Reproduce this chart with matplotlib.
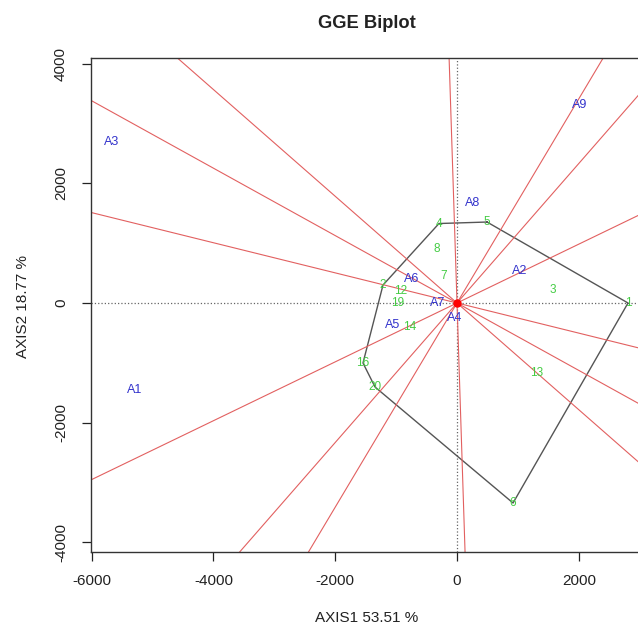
import numpy as np
import matplotlib
matplotlib.use("Agg")
import matplotlib.pyplot as plt

plt.rcParams['font.family'] = ['Liberation Sans', 'DejaVu Sans']

# genotypes (green numbers)
gen_labels = ['1', '3', '13', '6', '20', '16', '14', '19', '2', '12', '7', '8', '4', '5']
gen_x = [2808, 1576, 1314, 920, -1346, -1544, -772, -969, -1215, -920, -213, -328, -296, 493]
gen_y = [0, 218, -1172, -3347, -1406, -1004, -402, 0, 301, 200, 452, 904, 1330, 1355]

# polygon vertices (which-won-where), in drawing order
hull = ['5', '1', '6', '20', '16', '2', '4']

# environments (blue)
env_labels = ['A1', 'A2', 'A3', 'A6', 'A5', 'A4', 'A7', 'A8', 'A9']
env_x = [-5287, 1034, -5665, -740, -1051, -33, -312, 263, 2020]
env_y = [-1456, 536, 2695, 400, -368, -251, 0, 1674, 3314]

x_ticks = [-6000, -4000, -2000, 0, 2000]
y_ticks = [-4000, -2000, 0, 2000, 4000]

fig = plt.figure(figsize=(6.38, 6.28), dpi=100)
W, H = 638, 628
ax = fig.add_axes([91 / W, (H - 552) / H, (643 - 91) / W, (552 - 58) / H])
ax.set_xlim(-6010, 3054)
ax.set_ylim(-4167, 4100)

# dotted axes through origin
ax.axhline(0, color='#666666', linestyle=':', linewidth=0.9, zorder=1)
ax.axvline(0, color='#666666', linestyle=':', linewidth=0.9, zorder=1)

# polygon
pos = {lab: (x, y) for lab, x, y in zip(gen_labels, gen_x, gen_y)}
px = [pos[k][0] for k in hull] + [pos[hull[0]][0]]
py = [pos[k][1] for k in hull] + [pos[hull[0]][1]]
ax.plot(px, py, color='#555555', linewidth=1.0, zorder=2)

# perpendicular lines to each polygon side through the origin
L = 20
for i in range(len(hull)):
    p = np.array(pos[hull[i]], dtype=float)
    q = np.array(pos[hull[(i + 1) % len(hull)]], dtype=float)
    d = q - p
    n = np.array([-d[1], d[0]])
    ax.plot([-L * n[0], L * n[0]], [-L * n[1], L * n[1]],
            color='#e26060', linewidth=0.8, zorder=2)

# labels
for lab, x, y in zip(gen_labels, gen_x, gen_y):
    ax.text(x, y, lab, color='#44cc44', fontsize=8.5, ha='center', va='center', zorder=3)
for lab, x, y in zip(env_labels, env_x, env_y):
    ax.text(x, y, lab, color='#3333cc', fontsize=9, ha='center', va='center', zorder=3)

ax.plot([0], [0], 'o', color='red', markersize=5, zorder=4)

ax.set_xticks(x_ticks)
ax.set_yticks(y_ticks)
ax.set_xticklabels([str(t) for t in x_ticks])
ax.set_yticklabels([str(t) for t in y_ticks], rotation=90, va='center')
ax.tick_params(axis='x', length=6.5, width=0.9, pad=9, labelsize=11, colors='#222222')
ax.tick_params(axis='y', length=6.5, width=0.9, pad=10, labelsize=11, colors='#222222')
for s in ax.spines.values():
    s.set_color('#333333')
    s.set_linewidth(1.0)

fig.text(367 / W, 1 - 23 / H, 'GGE Biplot', ha='center', va='center',
         fontsize=13.2, fontweight='bold', color='#222222')
fig.text(367 / W, 1 - 618 / H, 'AXIS1 53.51 %', ha='center', va='center',
         fontsize=11, color='#222222')
fig.text(23 / W, 1 - 306 / H, 'AXIS2 18.77 %', ha='center', va='center',
         rotation=90, fontsize=11, color='#222222')

fig.savefig('out.png', dpi=100)
